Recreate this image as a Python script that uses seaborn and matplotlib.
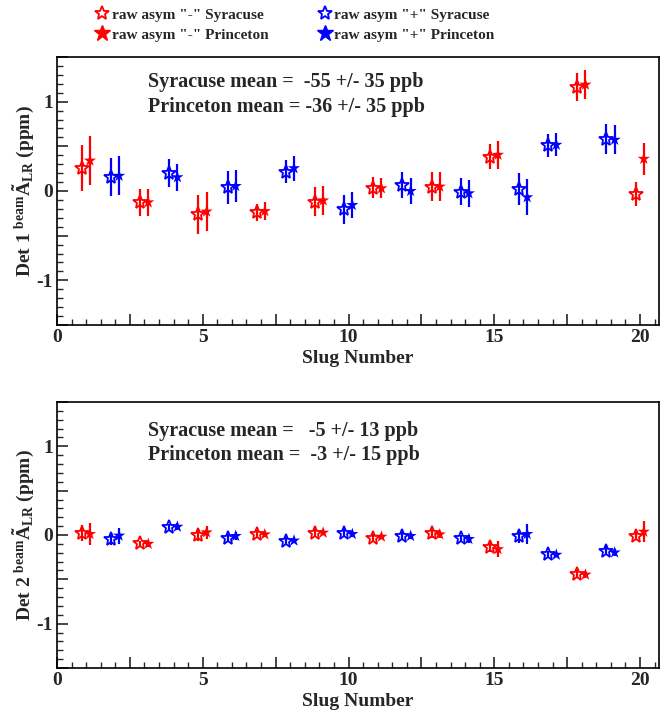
import numpy as np
import pandas as pd
import matplotlib
matplotlib.use("Agg")
import matplotlib.pyplot as plt
import seaborn as sns
from matplotlib.lines import Line2D
from matplotlib.ticker import MultipleLocator, FuncFormatter

# slug numbers and helicity sign ("-" red, "+" blue)
slugs = list(range(1, 21))
signs = ["-", "+", "-", "+", "-", "+", "-", "+", "-", "+",
         "-", "+", "-", "+", "-", "+", "+", "-", "+", "-"]

# Det 1 (ppm)
det1_syr = [0.255, 0.154, -0.127, 0.200, -0.260, 0.040, -0.240, 0.217, -0.120, -0.206,
            0.037, 0.067, 0.049, -0.007, 0.386, 0.022, 0.510, 1.165, 0.584, -0.034]
det1_syr_err = [0.26, 0.21, 0.15, 0.16, 0.22, 0.18, 0.10, 0.13, 0.16, 0.16,
                0.12, 0.15, 0.16, 0.15, 0.145, 0.18, 0.13, 0.16, 0.165, 0.135]
det1_pri = [0.340, 0.170, -0.127, 0.154, -0.230, 0.056, -0.225, 0.255, -0.105, -0.157,
            0.030, 0.000, 0.049, -0.026, 0.405, -0.070, 0.517, 1.190, 0.573, 0.360]
det1_pri_err = [0.27, 0.22, 0.15, 0.15, 0.22, 0.18, 0.10, 0.14, 0.16, 0.15,
                0.11, 0.14, 0.16, 0.15, 0.16, 0.20, 0.13, 0.165, 0.16, 0.18]

# Det 2 (ppm)
det2_syr = [0.019, -0.045, -0.093, 0.086, 0.000, -0.030, 0.011, -0.063, 0.026, 0.026,
            -0.030, -0.011, 0.019, -0.037, -0.138, -0.007, -0.216, -0.440, -0.175, -0.011]
det2_syr_err = [0.09, 0.07, 0.03, 0.04, 0.07, 0.04, 0.04, 0.04, 0.04, 0.04,
                0.04, 0.04, 0.05, 0.04, 0.05, 0.08, 0.04, 0.04, 0.05, 0.05]
det2_pri = [0.011, -0.007, -0.100, 0.093, 0.030, -0.011, 0.007, -0.063, 0.026, 0.011,
            -0.019, -0.011, 0.007, -0.045, -0.160, 0.011, -0.223, -0.447, -0.197, 0.037]
det2_pri_err = [0.12, 0.09, 0.03, 0.04, 0.07, 0.04, 0.03, 0.03, 0.03, 0.03,
                0.03, 0.03, 0.04, 0.04, 0.09, 0.11, 0.03, 0.04, 0.04, 0.12]

det1_text = ["Syracuse mean =  -55 +/- 35 ppb", "Princeton mean = -36 +/- 35 ppb"]
det2_text = ["Syracuse mean =   -5 +/- 13 ppb", "Princeton mean =  -3 +/- 15 ppb"]

sns.set_theme(style="ticks")
plt.rcParams["font.family"] = ["Liberation Serif", "DejaVu Serif"]
plt.rcParams["font.weight"] = "bold"
plt.rcParams["mathtext.fontset"] = "custom"
plt.rcParams["mathtext.rm"] = "Liberation Serif:bold"
plt.rcParams["mathtext.bf"] = "Liberation Serif:bold"
plt.rcParams["mathtext.it"] = "Liberation Serif:bold"

palette = {"-": "#ff0000", "+": "#0000ff"}

fig = plt.figure(figsize=(6.6, 7.12), dpi=100)
ax1 = fig.add_axes([0.0864, 0.5435, 0.912, 0.3765])
ax2 = fig.add_axes([0.0864, 0.0618, 0.912, 0.3736])


def draw(ax, syr, syr_err, pri, pri_err, texts, text_y, det):
    df = pd.DataFrame({"slug": slugs, "sign": signs,
                       "syr": syr, "syr_err": syr_err,
                       "pri": pri, "pri_err": pri_err})
    df["x_syr"] = df["slug"] - 0.15
    df["x_pri"] = df["slug"] + 0.13
    for sgn, g in df.groupby("sign"):
        c = palette[sgn]
        ax.errorbar(g["x_syr"], g["syr"], yerr=g["syr_err"], fmt="none",
                    ecolor=c, elinewidth=1.6, capsize=0)
        ax.errorbar(g["x_pri"], g["pri"], yerr=g["pri_err"], fmt="none",
                    ecolor=c, elinewidth=1.6, capsize=0)
    sns.scatterplot(data=df, x="x_pri", y="pri", hue="sign", palette=palette,
                    marker="*", s=85, linewidth=0, legend=False, ax=ax, zorder=3)
    for _, r in df.iterrows():
        ax.plot(r["x_syr"], r["syr"], marker="*", ms=10.5, mfc="none",
                mec=palette[r["sign"]], mew=1.3, ls="none", zorder=3)

    ax.set_xlim(0, 20.65)
    ax.set_ylim(-1.5, 1.5)
    ax.xaxis.set_major_locator(MultipleLocator(2.5))
    ax.xaxis.set_minor_locator(MultipleLocator(0.5))
    ax.yaxis.set_major_locator(MultipleLocator(0.5))
    ax.yaxis.set_minor_locator(MultipleLocator(0.1))
    ax.xaxis.set_major_formatter(FuncFormatter(lambda v, p: f"{v:.0f}" if abs(v % 5) < 1e-6 else ""))
    ax.yaxis.set_major_formatter(FuncFormatter(lambda v, p: f"{v:.0f}" if abs(v % 1) < 1e-6 else ""))
    ax.tick_params(which="major", direction="in", length=8, width=1.2, labelsize=14, pad=3)
    ax.tick_params(which="minor", direction="in", length=4, width=1.0)
    for sp in ax.spines.values():
        sp.set_linewidth(1.2)
        sp.set_color("black")
    for lab in ax.get_xticklabels() + ax.get_yticklabels():
        lab.set_fontweight("bold")
    ax.set_xlabel("Slug Number", fontsize=14, fontweight="bold", labelpad=3)
    ax.set_ylabel(r"Det " + det + r" $^{\rm beam}\tilde{\rm A}_{\rm LR}$ (ppm)",
                  fontsize=14, fontweight="bold", labelpad=0)
    ax.text(3.12, text_y[0], texts[0], fontsize=14.5, fontweight="bold", va="center")
    ax.text(3.12, text_y[1], texts[1], fontsize=14.5, fontweight="bold", va="center")


draw(ax1, det1_syr, det1_syr_err, det1_pri, det1_pri_err, det1_text, (1.22, 0.94), "1")
draw(ax2, det2_syr, det2_syr_err, det2_pri, det2_pri_err, det2_text, (1.17, 0.90), "2")

handles = [
    Line2D([], [], marker="*", ls="none", ms=10, mfc="none", mec="#ff0000", mew=1.3),
    Line2D([], [], marker="*", ls="none", ms=12, color="#ff0000"),
    Line2D([], [], marker="*", ls="none", ms=10, mfc="none", mec="#0000ff", mew=1.3),
    Line2D([], [], marker="*", ls="none", ms=12, color="#0000ff"),
]
labels = ['raw asym "-" Syracuse', 'raw asym "-" Princeton',
          'raw asym "+" Syracuse', 'raw asym "+" Princeton']
fig.legend(handles, labels, ncol=2, loc="upper left", bbox_to_anchor=(0.125, 1.008),
           frameon=False, prop={"size": 11, "weight": "bold"},
           handlelength=0.8, handletextpad=0.2, columnspacing=3.3, labelspacing=0.4)

fig.savefig("out.png", dpi=100)
